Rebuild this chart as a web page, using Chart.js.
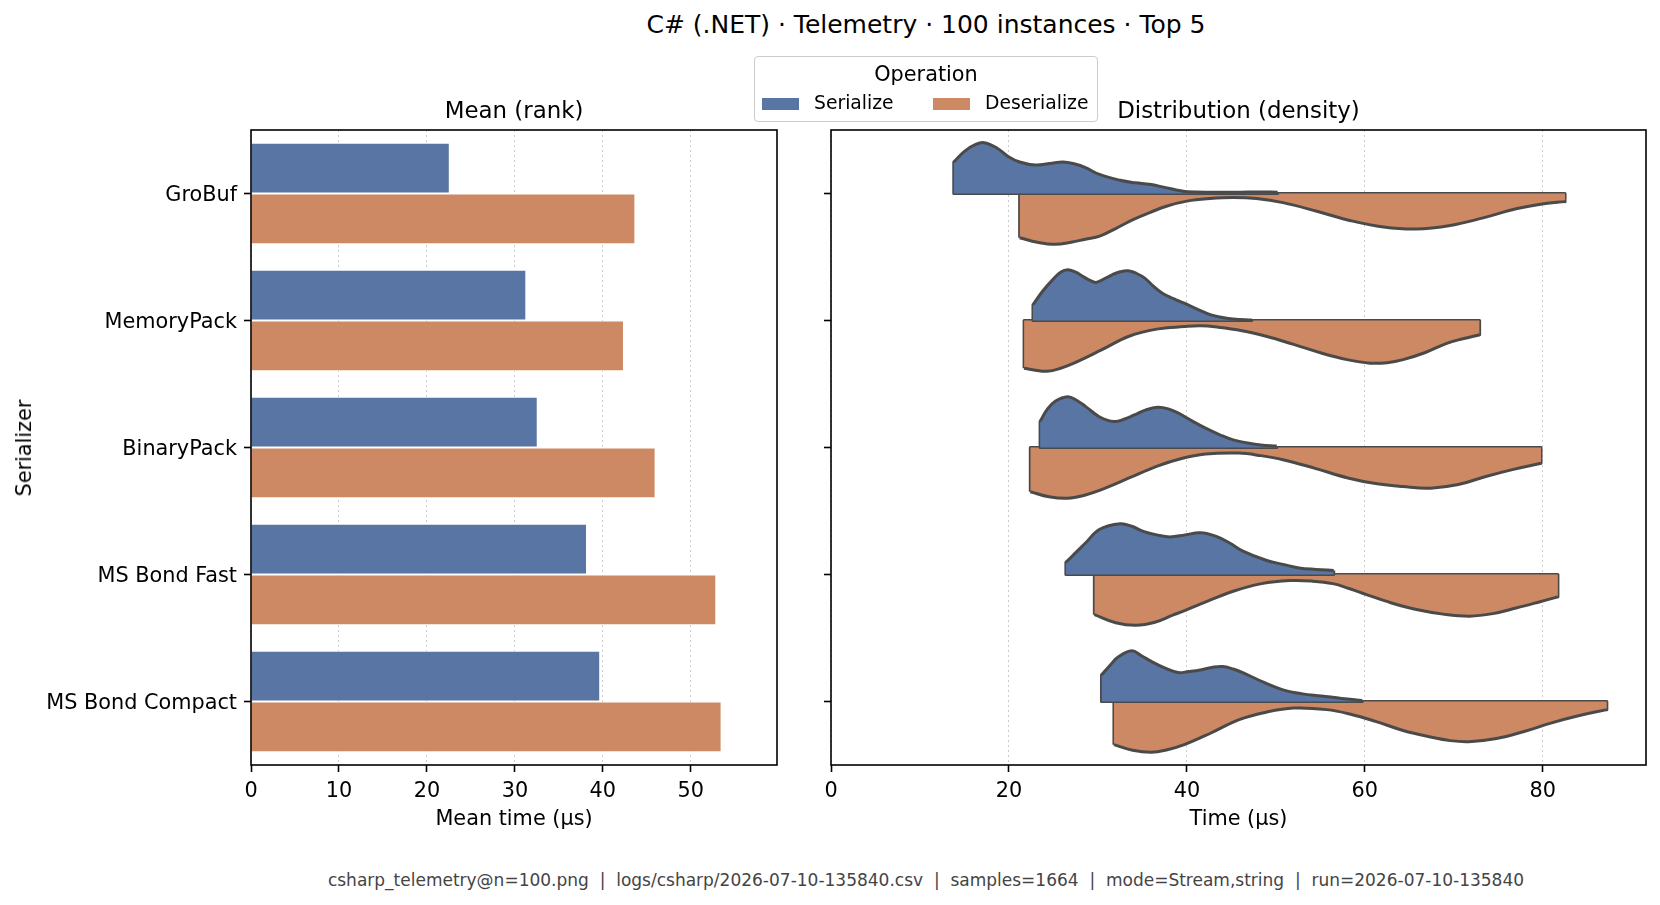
<!DOCTYPE html>
<html>
<head>
<meta charset="utf-8">
<script src="https://cdn.jsdelivr.net/npm/chart.js@4.4.1/dist/chart.umd.min.js"></script>
<style>
body{margin:0;background:#fff;font-family:"DejaVu Sans",sans-serif;color:#000}
#page{position:relative;width:1660px;height:905px;overflow:hidden;background:#fff}
.txt{position:absolute;white-space:pre}
canvas{position:absolute}
.sw{position:absolute;width:37px;height:12.5px}
</style>
</head>
<body>
<div id="page">
  <canvas id="meanChart" width="790" height="720" style="left:0;top:120px"></canvas>
  <canvas id="distChart" width="860" height="720" style="left:800px;top:120px"></canvas>

  <div class="txt" style="left:0;width:1852px;text-align:center;top:9.5px;line-height:30px;font-size:25px">C# (.NET) · Telemetry · 100 instances · Top 5</div>
  <div class="txt" style="left:251px;width:526px;text-align:center;top:94.5px;line-height:30px;font-size:22.9px">Mean (rank)</div>
  <div class="txt" style="left:831px;width:815px;text-align:center;top:94.5px;line-height:30px;font-size:22.9px">Distribution (density)</div>

  <div style="position:absolute;left:754px;top:56px;width:342px;height:64px;border:1px solid #ccc;border-radius:4px;background:#fff"></div>
  <div class="txt" style="left:754px;width:344px;text-align:center;top:62px;line-height:24px;font-size:20.8px">Operation</div>
  <div class="sw" style="left:762px;top:97.5px;background:#5975a4"></div>
  <div class="txt" style="left:814px;top:91px;line-height:24px;font-size:18.75px">Serialize</div>
  <div class="sw" style="left:933px;top:97.5px;background:#cc8963"></div>
  <div class="txt" style="left:985px;top:91px;line-height:24px;font-size:18.75px">Deserialize</div>

  <div class="txt" style="left:24px;top:448px;line-height:24px;font-size:20.8px;transform:translate(-50%,-50%) rotate(-90deg)">Serializer</div>

  <div class="txt" style="left:0;width:1852px;text-align:center;top:868px;line-height:24px;font-size:17px;color:#444">csharp_telemetry@n=100.png  |  logs/csharp/2026-07-10-135840.csv  |  samples=1664  |  mode=Stream,string  |  run=2026-07-10-135840</div>
</div>
<script>
const serializers = ["GroBuf", "MemoryPack", "BinaryPack", "MS Bond Fast", "MS Bond Compact"]
const serializeMean = [22.6, 31.3, 32.6, 38.2, 39.7]
const deserializeMean = [43.7, 42.4, 46.0, 52.9, 53.5]
const meanTicks = [0, 10, 20, 30, 40, 50]
const timeTicks = [0, 20, 40, 60, 80]

// violin halves: [time in µs, density relative to the widest point]
const groBufSer = [[13.8,0.62],[15.0,0.83],[16.2,0.96],[17.2,1.0],[18.6,0.9],[19.9,0.73],[21.2,0.62],[23.0,0.56],[24.6,0.59],[26.1,0.62],[27.4,0.58],[28.6,0.51],[30.1,0.38],[32.5,0.26],[34.2,0.21],[35.8,0.18],[37.5,0.12],[38.8,0.07],[40.0,0.035],[43.0,0.025],[46.0,0.025],[48.0,0.03],[50.2,0.025]]
const groBufDes = [[21.2,0.87],[23.2,0.96],[25.2,1.0],[27.0,0.96],[28.6,0.9],[30.2,0.84],[32.1,0.68],[34.0,0.51],[35.9,0.37],[37.7,0.25],[40.0,0.15],[42.6,0.1],[45.2,0.08],[47.8,0.1],[50.8,0.18],[54.6,0.35],[58.3,0.53],[62.1,0.66],[65.8,0.7],[69.6,0.63],[73.3,0.48],[77.0,0.3],[80.1,0.2],[82.5,0.16]]
const memoryPackSer = [[22.7,0.31],[23.8,0.58],[24.9,0.8],[25.8,0.95],[26.6,1.0],[27.5,0.95],[28.3,0.87],[29.1,0.79],[29.8,0.75],[30.7,0.82],[31.6,0.9],[32.5,0.96],[33.4,0.98],[34.3,0.93],[35.3,0.83],[36.2,0.68],[37.2,0.54],[38.5,0.43],[39.7,0.34],[41.2,0.22],[42.7,0.11],[44.0,0.06],[45.2,0.03],[47.3,0.01]]
const memoryPackDes = [[21.7,0.94],[23.0,0.98],[24.3,1.0],[25.8,0.94],[27.3,0.84],[30.4,0.58],[33.5,0.31],[36.6,0.17],[39.7,0.12],[41.5,0.105],[43.4,0.13],[46.2,0.2],[48.9,0.31],[52.0,0.47],[55.1,0.64],[58.0,0.77],[60.6,0.84],[62.5,0.83],[64.3,0.77],[66.8,0.63],[69.2,0.45],[71.0,0.36],[72.9,0.28]]
const binaryPackSer = [[23.5,0.51],[24.3,0.75],[25.2,0.91],[26.6,1.0],[27.6,0.93],[28.6,0.81],[30.2,0.6],[31.8,0.51],[33.0,0.56],[34.1,0.64],[35.4,0.74],[36.7,0.79],[37.9,0.76],[39.0,0.68],[40.5,0.53],[42.1,0.38],[43.7,0.25],[45.2,0.15],[46.8,0.09],[48.3,0.05],[50.1,0.03]]
const binaryPackDes = [[22.4,0.87],[24.5,0.97],[26.6,1.0],[28.5,0.94],[30.4,0.83],[33.5,0.6],[36.6,0.37],[39.3,0.22],[42.1,0.13],[45.8,0.11],[48.3,0.16],[50.8,0.24],[54.4,0.41],[58.1,0.6],[61.2,0.71],[64.3,0.77],[67.4,0.8],[70.5,0.73],[73.6,0.57],[76.7,0.43],[79.8,0.31]]
const bondFastSer = [[26.4,0.24],[27.5,0.43],[28.6,0.62],[30.2,0.89],[32.5,1.0],[33.8,0.95],[35.1,0.85],[36.6,0.78],[38.1,0.74],[39.8,0.78],[41.5,0.82],[43.3,0.75],[44.8,0.62],[46.3,0.46],[48.9,0.28],[50.8,0.2],[52.6,0.13],[54.5,0.1],[56.5,0.08]]
const bondFastDes = [[29.6,0.79],[32.0,0.95],[34.3,1.0],[36.4,0.94],[38.4,0.8],[39.6,0.72],[42.4,0.52],[45.2,0.33],[48.4,0.18],[51.6,0.12],[54.0,0.13],[56.4,0.18],[58.3,0.28],[60.1,0.39],[63.0,0.56],[65.8,0.69],[68.8,0.78],[71.8,0.82],[74.4,0.77],[77.0,0.66],[79.4,0.55],[81.7,0.44]]
const bondCompactSer = [[30.4,0.52],[31.4,0.72],[32.3,0.88],[33.8,1.0],[34.9,0.9],[36.0,0.79],[37.5,0.66],[39.0,0.57],[40.2,0.59],[41.5,0.62],[42.8,0.67],[44.0,0.69],[45.2,0.64],[46.4,0.56],[48.6,0.38],[50.8,0.23],[53.0,0.15],[55.1,0.11],[57.4,0.06],[59.7,0.02]]
const bondCompactDes = [[31.8,0.85],[33.9,0.96],[36.0,1.0],[37.8,0.95],[39.7,0.85],[42.7,0.62],[45.8,0.36],[48.9,0.21],[52.0,0.13],[55.7,0.16],[58.4,0.25],[61.2,0.39],[64.3,0.57],[67.4,0.7],[69.6,0.77],[71.7,0.79],[74.8,0.73],[77.9,0.59],[81.0,0.42],[84.0,0.28],[87.2,0.16]]

const serializeShapes = [groBufSer, memoryPackSer, binaryPackSer, bondFastSer, bondCompactSer]
const deserializeShapes = [groBufDes, memoryPackDes, binaryPackDes, bondFastDes, bondCompactDes]

const blue = "#5975a4"
const orange = "#cc8963"
const outline = "#4a4a4a"
const halfWidth = 0.4

Chart.defaults.font.family = "'DejaVu Sans', sans-serif"
Chart.defaults.color = "#000"

// matplotlib style box round the plot area
const frame = {
    id: "frame",
    afterDraw(chart){
        const {ctx, chartArea: a} = chart
        ctx.save()
        ctx.strokeStyle = "#000"
        ctx.lineWidth = 1.6
        ctx.strokeRect(a.left, a.top, a.right - a.left, a.bottom - a.top)
        ctx.restore()
    }
}

const tickGrid = {tickLength: 7, tickColor: "#000", tickWidth: 1.6, tickBorderDash: []}

new Chart(document.getElementById("meanChart"), {
    type: "bar",
    data: {
        labels: serializers,
        datasets: [
            {label: "Serialize", data: serializeMean, backgroundColor: blue, borderColor: "#fff", borderWidth: 1, categoryPercentage: 0.8, barPercentage: 1},
            {label: "Deserialize", data: deserializeMean, backgroundColor: orange, borderColor: "#fff", borderWidth: 1, categoryPercentage: 0.8, barPercentage: 1}
        ]
    },
    options: {
        indexAxis: "y",
        responsive: false,
        animation: false,
        devicePixelRatio: 1,
        events: [],
        layout: {padding: {top: 10, right: 13, left: 0, bottom: 0}},
        plugins: {legend: {display: false}, tooltip: {enabled: false}},
        scales: {
            x: {
                type: "linear", min: 0, max: 59.8,
                afterBuildTicks: s => { s.ticks = meanTicks.map(v => ({value: v})) },
                afterFit: s => { s.height = 75 },
                grid: {color: "rgba(0,0,0,0.2)", lineWidth: 1, ...tickGrid},
                border: {display: false, dash: [2, 3]},
                ticks: {font: {size: 20.8}, padding: 7, maxRotation: 0},
                title: {display: true, text: "Mean time (µs)", font: {size: 20.8}, padding: {top: 0, bottom: 7.5}}
            },
            y: {
                afterFit: s => { s.width = 251; s.paddingTop = 0; s.paddingBottom = 0 },
                grid: {offset: false, drawOnChartArea: false, ...tickGrid},
                border: {display: false},
                ticks: {font: {size: 20.8}, padding: 7, labelOffset: 2}
            }
        }
    },
    plugins: [frame]
})

// each half violin: a filled smooth curve plus its straight ends and base line
const distDatasets = []
serializers.forEach((name, i) => {
    [[serializeShapes[i], -1, blue], [deserializeShapes[i], 1, orange]].forEach(([shape, side, color]) => {
        const pts = shape.map(([t, d]) => ({x: t, y: i + side * d * halfWidth}))
        distDatasets.push({
            data: pts, fill: {value: i}, backgroundColor: color, borderColor: outline,
            borderWidth: 3, pointRadius: 0, tension: 0.4, borderJoinStyle: "round"
        })
        const first = pts[0], last = pts[pts.length - 1]
        distDatasets.push({
            data: [first, {x: first.x, y: i}, {x: last.x, y: i}, last], fill: false,
            borderColor: outline, borderWidth: 3, pointRadius: 0, tension: 0, borderJoinStyle: "round"
        })
    })
})

new Chart(document.getElementById("distChart"), {
    type: "line",
    data: {datasets: distDatasets},
    options: {
        responsive: false,
        animation: false,
        devicePixelRatio: 1,
        events: [],
        layout: {padding: {top: 10, right: 14, left: 0, bottom: 0}},
        plugins: {legend: {display: false}, tooltip: {enabled: false}},
        scales: {
            x: {
                type: "linear", min: 0, max: 91.6,
                afterBuildTicks: s => { s.ticks = timeTicks.map(v => ({value: v})) },
                afterFit: s => { s.height = 75 },
                grid: {color: "rgba(0,0,0,0.2)", lineWidth: 1, ...tickGrid},
                border: {display: false, dash: [2, 3]},
                ticks: {font: {size: 20.8}, padding: 7, maxRotation: 0},
                title: {display: true, text: "Time (µs)", font: {size: 20.8}, padding: {top: 0, bottom: 7.5}}
            },
            y: {
                type: "linear", min: -0.5, max: 4.5, reverse: true,
                afterBuildTicks: s => { s.ticks = serializers.map((n, i) => ({value: i})) },
                afterFit: s => { s.width = 31 },
                grid: {drawOnChartArea: false, ...tickGrid},
                border: {display: false},
                ticks: {display: false}
            }
        }
    },
    plugins: [frame]
})
</script>
</body>
</html>
